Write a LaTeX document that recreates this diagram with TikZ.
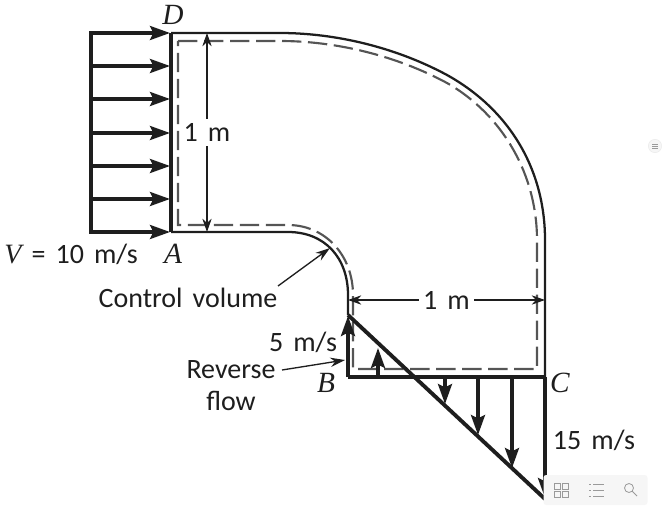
\documentclass[tikz,border=0pt]{standalone}
\usepackage{fontspec}
\setmainfont{Liberation Serif}
\setsansfont[WordSpace=1.6]{Carlito}
\usetikzlibrary{arrows.meta}
\definecolor{inkc}{HTML}{1E1E1E}
\definecolor{dashc}{HTML}{555555}
\definecolor{barc}{HTML}{F6F6F6}
\definecolor{iconc}{HTML}{9A9A9A}

\begin{document}
\begin{tikzpicture}[x=0.75pt,y=-0.75pt]
\tikzset{every node/.style={text=inkc,inner sep=0pt}}
\tikzset{txt/.style={font=\sffamily\fontsize{21}{24}\selectfont}}
\tikzset{pt/.style={font=\rmfamily\itshape\fontsize{22}{26}\selectfont}}
\tikzset{wall/.style={draw=inkc,line width=1.7pt}}
\tikzset{thick wall/.style={draw=inkc,line width=2.9pt}}
\tikzset{cv/.style={draw=dashc,line width=1.6pt,dash pattern=on 14.5pt off 5pt}}
\tikzset{flow/.style={draw=inkc,line width=2.5pt,-{Stealth[length=15pt,width=10.5pt,inset=2.5pt]}}}
\tikzset{dim/.style={draw=inkc,line width=0.8pt,{Stealth[length=10pt,width=7pt]}-{Stealth[length=10pt,width=7pt]}}}
\tikzset{lead/.style={draw=inkc,line width=1pt,-{Stealth[length=11pt,width=7pt]}}}
\useasboundingbox (0,0) rectangle (663,506);

% corners of the bend
\coordinate (A) at (171,232);
\coordinate (B) at (348,377);
\coordinate (C) at (545,377);
\coordinate (D) at (171,33);
\coordinate (tip) at (348,315);
\coordinate (end) at (545,499);

% duct
\draw[wall] (D) -- (280,33) .. controls (335,33) and (395,47) .. (447,75) .. controls (510,110) and (545,170) .. (545,240) -- (C);
\draw[wall] (A) -- (288,232) .. controls (325,232) and (348,258) .. (348,295) -- (tip);
\draw[thick wall] (B) -- (C);
\draw[thick wall] (D) -- (A);
\draw[thick wall] (91,31.5) -- (91,233.5);

% control volume
\draw[cv] (178,41) -- (280,41) .. controls (335,41) and (395,55) .. (447,83) .. controls (503,115) and (537,175) .. (537,240) -- (537,369) -- (353,369)
  -- (353,295) .. controls (353,255) and (325,225) .. (288,225) -- (178,225) -- cycle;

% inlet
\foreach \y/\name in {33/a,66/b,99/c,133/d,166/e,199/f,232/g} {
  \coordinate (in\name) at (91,\y);
  \coordinate (out\name) at (170,\y);
  \draw[flow] (in\name) -- (out\name);
}

% outlet
\draw[thick wall] (tip) -- (end);
\foreach \x/\y in {348/316,378/348,445/404,478/435,512/468,545/498} {
  \coordinate (base\x) at (\x,377);
  \coordinate (head\x) at (\x,\y);
  \draw[flow] (base\x) -- (head\x);
}

% dimensions
\coordinate (h1) at (207,33);
\coordinate (h2) at (207,232);
\coordinate (w1) at (348,300);
\coordinate (w2) at (545,300);
\draw[dim] (h1) -- node[txt,fill=white,inner sep=3pt] (hlabel) {1 m} (h2);
\draw[dim] (w1) -- node[txt,fill=white,inner sep=3pt] (wlabel) {1 m} (w2);

% labels
\node[pt] (labelD) at (173,15) {D};
\node[pt] (labelA) at (173,254) {A};
\node[pt] (labelB) at (326,383) {B};
\node[pt] (labelC) at (560,383) {C};
\node[txt] (speed) at (71,254) {{\rmfamily\itshape V} = 10 m/s};
\node[txt] (cvlabel) at (188,298) {Control volume};
\node[txt] (back) at (303,342) {5 m/s};
\node[txt,align=center] (reverse) at (231,386) {Reverse\\flow};
\node[txt] (fast) at (594,440) {15 m/s};
\coordinate (cvstart) at (278,286);
\coordinate (cvend) at (330,248);
\coordinate (revstart) at (282,370);
\coordinate (revend) at (345,360);
\draw[lead] (cvstart) -- (cvend);
\draw[lead] (revstart) -- (revend);

% viewer widgets
\node[draw=none,fill=barc,minimum width=78pt,minimum height=22.5pt,rounded corners=2pt] (toolbar) at (595.5,490) {};
\node[circle,fill=barc,draw=black!8,minimum size=10pt] (menu) at (655,146) {};
\draw[iconc,line width=0.5pt] (652,144.5) -- (658,144.5) (652,146.5) -- (658,146.5) (652,148.5) -- (658,148.5);
\draw[iconc,line width=0.6pt] (554,483) rectangle (560,489) (562,483) rectangle (568,489) (554,491) rectangle (560,497) (562,491) rectangle (568,497);
\foreach \y in {484,490,496} {
  \draw[iconc,line width=0.6pt] (589,\y) -- (591,\y) (593,\y) -- (604,\y);
}
\draw[iconc,line width=0.6pt] (629,488) circle (4.5) (632.5,491.5) -- (637,496);
\end{tikzpicture}
\end{document}
